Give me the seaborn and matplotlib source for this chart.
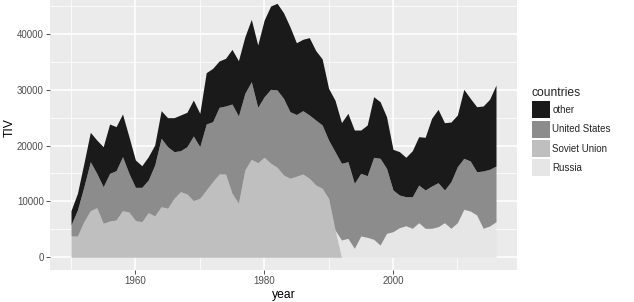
import numpy as np
import pandas as pd
import matplotlib
matplotlib.use("Agg")
import matplotlib.pyplot as plt
import seaborn as sns
from matplotlib.patches import Patch

# arms transfers (TIV) per year
years = list(range(1950, 2017))

other = [2560, 2990, 4170, 5260, 5960, 7160, 8830, 7870, 7640, 6560,
         4890, 3870, 4170, 3580, 4940, 5190, 6080, 6390, 6150, 6440,
         5970, 9180, 9540, 8290, 8530, 9780, 9890, 10120, 11160, 11150,
         13720, 14900, 15510, 15320, 15200, 12840, 12770, 13840, 12440, 11830,
         9250, 9200, 7280, 8660, 9530, 7740, 9070, 10840, 10130, 9230,
         7280, 7760, 7050, 8230, 8650, 9430, 12110, 13120, 12040, 10680,
         9250, 12340, 11210, 11630, 11630, 12520, 14490]

united_states = [1970, 4650, 6260, 8760, 6150, 6550, 8530, 8830, 9660, 6920,
                 5970, 6150, 5850, 9120, 12240, 11020, 8350, 7330, 8470, 11570,
                 9240, 11810, 10740, 11930, 12170, 15970, 15620, 13720, 13880, 9910,
                 10840, 13230, 13830, 13720, 11920, 11050, 11330, 11330, 11630, 11330,
                 10480, 14000, 13720, 13700, 11630, 11220, 11020, 14670, 15510, 11630,
                 7460, 5840, 5190, 5650, 6740, 6850, 7560, 7880, 5850, 8330,
                 10020, 9120, 8950, 7740, 10250, 10140, 9960]

# 1950-1991
soviet_union = [3810, 3810, 6370, 8340, 8870, 6080, 6490, 6670, 8340, 8100,
                6550, 6370, 7980, 7390, 9050, 8770, 10550, 11740, 11320, 10130,
                10550, 12040, 13520, 14900, 14900, 11450, 9660, 15620, 17530, 16920,
                17890, 16820, 16100, 14720, 14130, 14500, 14900, 14130, 12930, 12340,
                10500, 4900]

# 1992-2016
russia = [3100, 3400, 1610, 3810, 3580, 3220, 2200, 4290, 4580, 5300,
          5650, 5190, 6190, 5190, 5190, 5470, 6190, 5190, 6190, 8590,
          8280, 7570, 5190, 5600, 6370]

df = pd.DataFrame({"year": years, "other": other, "United States": united_states})
df["Soviet Union"] = soviet_union + [0] * len(russia)
df["Russia"] = [0] * len(soviet_union) + russia

countries = ["other", "United States", "Soviet Union", "Russia"]
colors = {"other": "#1A1A1A", "United States": "#8C8C8C",
          "Soviet Union": "#BFBFBF", "Russia": "#E6E6E6"}

sns.set_theme(style="darkgrid", rc={"axes.facecolor": "#EBEBEB",
                                    "grid.color": "white",
                                    "axes.axisbelow": True})
plt.rcParams["font.family"] = ["Liberation Sans", "DejaVu Sans"]

fig = plt.figure(figsize=(6.34, 3.02), dpi=100)
ax = fig.add_axes([50 / 634, 32 / 302, 467 / 634, 270 / 302])

low = df["Soviet Union"] + df["Russia"]
mid = low + df["United States"]
top = mid + df["other"]

# Russia from 1991 on, Soviet Union drops to zero by 1992
rus = df["year"] >= 1991
ax.fill_between(df["year"][rus], 0, low[rus], color=colors["Russia"], lw=0)
su = df["year"] <= 1992
ax.fill_between(df["year"][su], 0, df["Soviet Union"][su], color=colors["Soviet Union"], lw=0)
ax.fill_between(df["year"], low, mid, color=colors["United States"], lw=0)
ax.fill_between(df["year"], mid, top, color=colors["other"], lw=0)

ax.set_xlim(1946.74, 2019.26)
ax.set_ylim(-2270, 46030)
ax.set_xticks([1960, 1980, 2000])
ax.set_xticks([1950, 1970, 1990, 2010], minor=True)
ax.set_yticks([0, 10000, 20000, 30000, 40000])
ax.set_yticks([5000, 15000, 25000, 35000, 45000], minor=True)
ax.grid(which="major", color="white", lw=1.1)
ax.grid(which="minor", color="white", lw=0.55)
for s in ax.spines.values():
    s.set_visible(False)
ax.tick_params(which="major", bottom=True, left=True, length=2.9, width=0.6,
               color="#333333", labelsize=7, labelcolor="#4D4D4D", pad=1.6)
ax.tick_params(which="minor", length=0)

ax.set_xlabel("year", fontsize=8.75, color="black", labelpad=2)
ax.set_ylabel("TIV", fontsize=8.75, color="black", va="center")
ax.yaxis.set_label_coords(-0.086, 0.526)

handles = [Patch(facecolor=colors[c], edgecolor="none") for c in countries]
fig.legend(handles, countries, title="countries", loc="upper left",
           bbox_to_anchor=(532 / 634, 1 - 87 / 302), frameon=False,
           fontsize=7, title_fontsize=8.75, handlelength=1.85, handleheight=2.3,
           handletextpad=0.25, labelspacing=0.25, borderpad=0, borderaxespad=0,
           alignment="left")

fig.savefig("out.png", dpi=100)
